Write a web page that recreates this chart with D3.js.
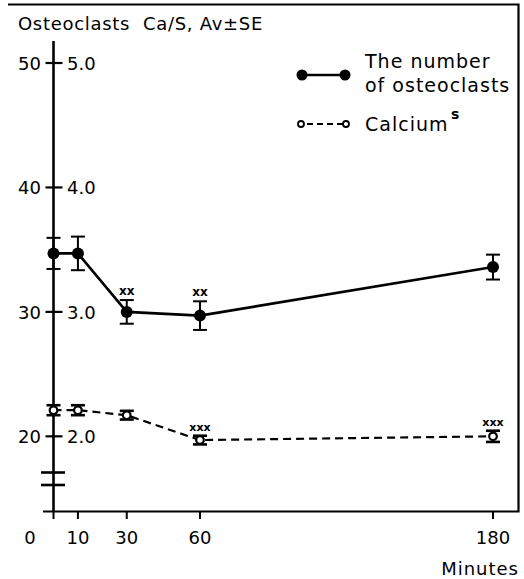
<!DOCTYPE html>
<html>
<head>
<meta charset="utf-8">
<script src="https://cdn.jsdelivr.net/npm/d3@7"></script>
<style>
  html, body { margin: 0; padding: 0; background: #fff; }
  svg { display: block; }
  text { font-family: "DejaVu Sans", "Liberation Sans", sans-serif; fill: #000; }
</style>
</head>
<body>
<div id="chart"></div>
<script>
// values
var minutes     = [0, 10, 30, 60, 180];
var osteoMean   = [34.7, 34.7, 30.0, 29.7, 33.6];
var osteoSE     = [1.25, 1.35, 0.95, 1.15, 1.0];
var calciumMean = [2.21, 2.21, 2.17, 1.97, 2.00];
var calciumSE   = [0.04, 0.04, 0.035, 0.035, 0.045];
var osteoSig    = ['', '', 'xx', 'xx', ''];
var calciumSig  = ['', '', '', 'xxx', 'xxx'];
var leftTicks   = [20, 30, 40, 50];
var rightLabels = ['2.0', '3.0', '4.0', '5.0'];
var xTicks      = [0, 10, 30, 60, 180];

var W = 524, H = 579;

var svg = d3.select('#chart').append('svg')
    .attr('width', W)
    .attr('height', H);

var x = d3.scaleLinear().domain([0, 180]).range([53.5, 493]);
var y = d3.scaleLinear().domain([14, 50]).range([511, 63]);
// calcium is plotted on the same axis, 1 unit = 10 osteoclasts
var yCa = d3.scaleLinear().domain([1.4, 5.0]).range([511, 63]);

// frame (top + right), bottom axis
svg.append('path')
    .attr('d', 'M8,4.5 L518.5,4.5 L518.5,511.5 L43,511.5')
    .attr('fill', 'none')
    .attr('stroke', '#000')
    .attr('stroke-width', 2.2);

// left axis line
svg.append('line')
    .attr('x1', x(0)).attr('x2', x(0))
    .attr('y1', 41).attr('y2', 511)
    .attr('stroke', '#000')
    .attr('stroke-width', 2.6);

// axis break
[472.5, 485].forEach(function(by) {
    svg.append('line')
        .attr('x1', 41).attr('x2', 65)
        .attr('y1', by).attr('y2', by)
        .attr('stroke', '#000')
        .attr('stroke-width', 2.6);
});

// y ticks and labels
var yAxis = svg.append('g').attr('class', 'y-axis');
leftTicks.forEach(function(t, i) {
    yAxis.append('line')
        .attr('x1', x(0) - 8).attr('x2', x(0) + 9)
        .attr('y1', y(t)).attr('y2', y(t))
        .attr('stroke', '#000')
        .attr('stroke-width', 2.2);
    yAxis.append('text')
        .attr('x', 41).attr('y', y(t) + 7)
        .attr('text-anchor', 'end')
        .attr('font-size', 18)
        .text(t);
    yAxis.append('text')
        .attr('x', 67).attr('y', y(t) + 7)
        .attr('font-size', 18)
        .text(rightLabels[i]);
});

// x ticks and labels
var xAxis = svg.append('g').attr('class', 'x-axis');
xTicks.forEach(function(t) {
    xAxis.append('line')
        .attr('x1', x(t)).attr('x2', x(t))
        .attr('y1', 511).attr('y2', 519)
        .attr('stroke', '#000')
        .attr('stroke-width', 2);
    xAxis.append('text')
        .attr('x', t === 0 ? 30 : x(t))
        .attr('y', 544)
        .attr('text-anchor', 'middle')
        .attr('font-size', 18)
        .text(t);
});

svg.append('text')
    .attr('x', 519).attr('y', 575)
    .attr('text-anchor', 'end')
    .attr('font-size', 18)
    .attr('letter-spacing', 1)
    .text('Minutes');

svg.append('text')
    .attr('x', 18).attr('y', 30)
    .attr('font-size', 18)
    .attr('letter-spacing', 0.7)
    .attr('xml:space', 'preserve')
    .text('Osteoclasts  Ca/S, Av±SE');

// ---- osteoclasts (solid, filled) ----
var osteo = minutes.map(function(m, i) {
    return { m: m, v: osteoMean[i], se: osteoSE[i], sig: osteoSig[i] };
});
var calcium = minutes.map(function(m, i) {
    return { m: m, v: calciumMean[i], se: calciumSE[i], sig: calciumSig[i] };
});

var line = d3.line().x(function(d) { return x(d.m); });

svg.append('path')
    .datum(osteo)
    .attr('d', line.y(function(d) { return y(d.v); }))
    .attr('fill', 'none')
    .attr('stroke', '#000')
    .attr('stroke-width', 2.6);

var og = svg.append('g').selectAll('g').data(osteo).enter().append('g');
og.append('line')
    .attr('x1', function(d) { return x(d.m); })
    .attr('x2', function(d) { return x(d.m); })
    .attr('y1', function(d) { return y(d.v + d.se); })
    .attr('y2', function(d) { return y(d.v - d.se); })
    .attr('stroke', '#000').attr('stroke-width', 2);
[1, -1].forEach(function(s) {
    og.append('line')
        .attr('x1', function(d) { return x(d.m) - 7; })
        .attr('x2', function(d) { return x(d.m) + 7; })
        .attr('y1', function(d) { return y(d.v + s * d.se); })
        .attr('y2', function(d) { return y(d.v + s * d.se); })
        .attr('stroke', '#000').attr('stroke-width', 2);
});
og.append('circle')
    .attr('cx', function(d) { return x(d.m); })
    .attr('cy', function(d) { return y(d.v); })
    .attr('r', 6)
    .attr('fill', '#000');
og.append('text')
    .attr('x', function(d) { return x(d.m); })
    .attr('y', function(d) { return y(d.v + d.se) - 5; })
    .attr('text-anchor', 'middle')
    .attr('font-size', 12)
    .attr('font-weight', 'bold')
    .text(function(d) { return d.sig; });

// ---- calcium (dashed, open) ----
svg.append('path')
    .datum(calcium)
    .attr('d', line.y(function(d) { return yCa(d.v); }))
    .attr('fill', 'none')
    .attr('stroke', '#000')
    .attr('stroke-width', 2.2)
    .attr('stroke-dasharray', '8,5');

var cg = svg.append('g').selectAll('g').data(calcium).enter().append('g');
[1, -1].forEach(function(s) {
    cg.append('line')
        .attr('x1', function(d) { return x(d.m) - 7; })
        .attr('x2', function(d) { return x(d.m) + 7; })
        .attr('y1', function(d) { return yCa(d.v + s * d.se); })
        .attr('y2', function(d) { return yCa(d.v + s * d.se); })
        .attr('stroke', '#000').attr('stroke-width', 2.6);
});
cg.append('circle')
    .attr('cx', function(d) { return x(d.m); })
    .attr('cy', function(d) { return yCa(d.v); })
    .attr('r', 3.8)
    .attr('fill', '#fff')
    .attr('stroke', '#000')
    .attr('stroke-width', 2.2);
cg.append('text')
    .attr('x', function(d) { return x(d.m); })
    .attr('y', function(d) { return yCa(d.v + d.se) - 5; })
    .attr('text-anchor', 'middle')
    .attr('font-size', 11)
    .attr('font-weight', 'bold')
    .text(function(d) { return d.sig; });

// ---- legend ----
var lg = svg.append('g').attr('class', 'legend');
lg.append('line')
    .attr('x1', 302).attr('x2', 345).attr('y1', 75).attr('y2', 75)
    .attr('stroke', '#000').attr('stroke-width', 2.6);
[302, 345].forEach(function(cx) {
    lg.append('circle').attr('cx', cx).attr('cy', 75).attr('r', 5.5).attr('fill', '#000');
});
lg.append('text').attr('x', 365).attr('y', 68).attr('font-size', 19)
    .attr('letter-spacing', 1).text('The number');
lg.append('text').attr('x', 365).attr('y', 92).attr('font-size', 19)
    .attr('letter-spacing', 1).text('of osteoclasts');

lg.append('line')
    .attr('x1', 304).attr('x2', 344).attr('y1', 124).attr('y2', 124)
    .attr('stroke', '#000').attr('stroke-width', 2)
    .attr('stroke-dasharray', '6,4')
    .attr('stroke-dashoffset', -3);
[301, 346].forEach(function(cx) {
    lg.append('circle').attr('cx', cx).attr('cy', 124).attr('r', 3)
        .attr('fill', '#fff').attr('stroke', '#000').attr('stroke-width', 1.8);
});
lg.append('text').attr('x', 365).attr('y', 131).attr('font-size', 19)
    .attr('letter-spacing', 1).text('Calcium');
lg.append('text').attr('x', 451).attr('y', 119).attr('font-size', 14)
    .attr('font-weight', 'bold').text('s');
</script>
</body>
</html>
